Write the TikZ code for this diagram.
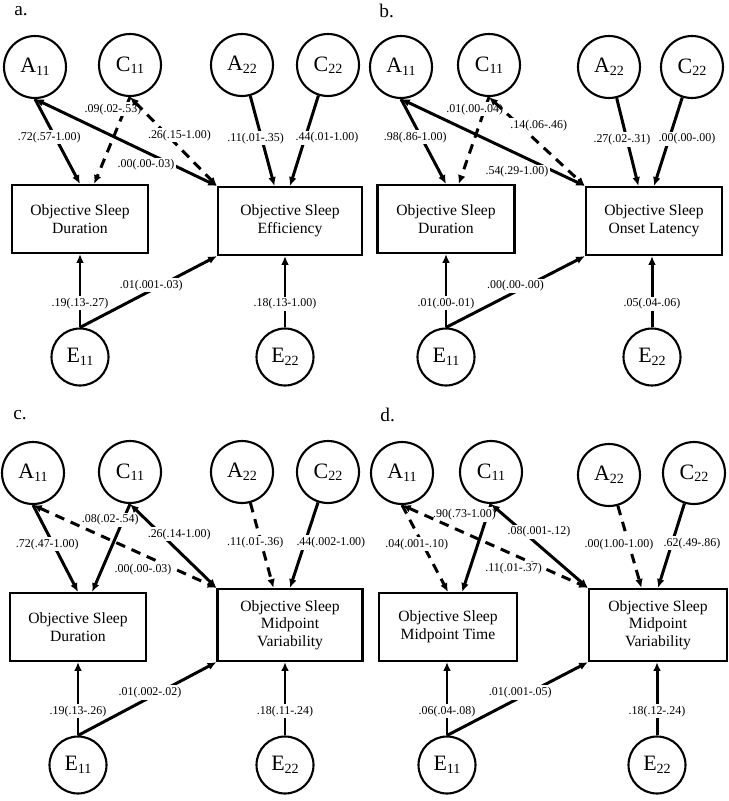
\documentclass[tikz,border=0pt]{standalone}
\usepackage{fontspec}
\setmainfont{Liberation Serif}
\usetikzlibrary{arrows.meta}
\newcommand\subix[1]{\raisebox{-.25ex}{\fontsize{8}{9}\selectfont #1}}
\tikzset{
  latent/.style={circle, draw, line width=1.2pt, minimum size=1.24cm, inner sep=0pt, font=\fontsize{12.5}{14}\selectfont},
  resid/.style={latent, minimum size=1.14cm},
  measure/.style={rectangle, draw, line width=1.2pt, align=center, minimum height=1.36cm, inner ysep=6.5pt, font=\fontsize{8.9}{10}\selectfont},
  effect/.style={line width=1.7pt, -{Latex[length=5pt,width=4.4pt]}},
  twoway/.style={line width=1.7pt, {Latex[length=5pt,width=4.4pt]}-{Latex[length=5pt,width=4.4pt]}},
  ns/.style={dash pattern=on 5.5pt off 4pt},
  lbl/.style={fill=white, inner sep=1pt, font=\fontsize{6.8}{8}\selectfont},
  tag/.style={anchor=west, inner sep=0pt, font=\fontsize{11}{12}\selectfont}
}
\begin{document}
\begin{tikzpicture}[x=0.02cm, y=-0.02cm]
\useasboundingbox (0,0) rectangle (729,801);

\begin{scope}[shift={(0,0)}]
\node[tag] (aTag) at (14,11) {a.};
\node[latent] (aA1) at (35,67) {A\subix{11}};
\node[latent] (aC1) at (130,65) {C\subix{11}};
\node[latent] (aA2) at (242,65) {A\subix{22}};
\node[latent] (aC2) at (328,65) {C\subix{22}};
\node[measure, minimum width=2.72cm] (aD1) at (80,219) {Objective Sleep\\Duration};
\node[measure, minimum width=2.88cm] (aD2) at (290,221) {Objective Sleep\\Efficiency};
\node[resid] (aE1) at (80,357) {E\subix{11}};
\node[resid] (aE2) at (285,357) {E\subix{22}};
\draw[effect] (aA1.south) -- (aD1.north) node[lbl, pos=.45, xshift=-.12cm] {.72(.57-1.00)};
\draw[effect, ns] (aC1.south) -- (aD1.68) node[lbl, pos=.14, xshift=-.24cm] {.09(.02-.53)};
\draw[twoway, ns] (aC1.south) -- (aD2.north west) node[lbl, pos=.43, xshift=.24cm] {.26(.15-1.00)};
\draw[twoway] (aA1.south) -- (aD2.north west) node[lbl, pos=.61, yshift=-.26cm] {.00(.00-.03)};
\draw[effect] (aA2) -- (aD2.114) node[lbl, pos=.47, xshift=-.12cm] {.11(.01-.35)};
\draw[effect] (aC2) -- (aD2.north) node[lbl, pos=.47, xshift=.44cm] {.44(.01-1.00)};
\draw[effect] (aE1) -- (aE1 |- aD1.south) node[lbl, pos=.33] {.19(.13-.27)};
\draw[effect] (aE1.north) -- (aD2.south west) node[lbl, pos=.52, yshift=.1cm] {.01(.001-.03)};
\draw[effect] (aE2) -- (aE2 |- aD2.south) node[lbl, pos=.33] {.18(.13-1.00)};
\end{scope}

\begin{scope}[shift={(365,0)}]
\node[tag] (bTag) at (14,11) {b.};
\node[latent] (bA1) at (36,67) {A\subix{11}};
\node[latent] (bC1) at (124,65) {C\subix{11}};
\node[latent] (bA2) at (244,67) {A\subix{22}};
\node[latent] (bC2) at (327,67) {C\subix{22}};
\node[measure, minimum width=2.74cm] (bD1) at (81,219) {Objective Sleep\\Duration};
\node[measure, minimum width=2.72cm] (bD2) at (289,221) {Objective Sleep\\Onset Latency};
\node[resid] (bE1) at (81,357) {E\subix{11}};
\node[resid] (bE2) at (287,357) {E\subix{22}};
\draw[effect] (bA1.south) -- (bD1.north) node[lbl, pos=.45, xshift=-.12cm] {.98(.86-1.00)};
\draw[effect, ns] (bC1.south) -- (bD1.70) node[lbl, pos=.14, xshift=-.2cm] {.01(.00-.04)};
\draw[twoway, ns] (bC1.south) -- (bD2.north west) node[lbl, pos=.32, xshift=.38cm] {.14(.06-.46)};
\draw[twoway] (bA1.south) -- (bD2.north west) node[lbl, pos=.63, yshift=-.36cm] {.54(.29-1.00)};
\draw[effect] (bA2) -- (bD2.114) node[lbl, pos=.47, xshift=-.1cm] {.27(.02-.31)};
\draw[effect] (bC2) -- (bD2.north) node[lbl, pos=.47, xshift=.36cm] {.00(.00-.00)};
\draw[effect] (bE1) -- (bE1 |- bD1.south) node[lbl, pos=.33] {.01(.00-.01)};
\draw[effect] (bE1.north) -- (bD2.south west) node[lbl, pos=.5, yshift=.12cm] {.00(.00-.00)};
\draw[effect] (bE2) -- (bE2 |- bD2.south) node[lbl, pos=.33] {.05(.04-.06)};
\end{scope}

\begin{scope}[shift={(0,406)}]
\node[tag] (cTag) at (13,9) {c.};
\node[latent] (cA1) at (33,67) {A\subix{11}};
\node[latent] (cC1) at (130,66) {C\subix{11}};
\node[latent] (cA2) at (242,66) {A\subix{22}};
\node[latent] (cC2) at (328,66) {C\subix{22}};
\node[measure, minimum width=2.72cm] (cD1) at (78,221) {Objective Sleep\\Duration};
\node[measure, minimum width=2.9cm] (cD2) at (290,219) {Objective Sleep\\Midpoint\\Variability};
\node[resid] (cE1) at (78,359) {E\subix{11}};
\node[resid] (cE2) at (285,359) {E\subix{22}};
\draw[effect] (cA1.south) -- (cD1.north) node[lbl, pos=.45, xshift=-.12cm] {.72(.47-1.00)};
\draw[effect] (cC1.south) -- (cD1.68) node[lbl, pos=.18, xshift=-.26cm] {.08(.02-.54)};
\draw[twoway, ns] (cA1.south) -- (cD2.north west) node[lbl, pos=.6, yshift=-.29cm] {.00(.00-.03)};
\draw[twoway] (cC1.south) -- (cD2.north west) node[lbl, pos=.36, xshift=.36cm] {.26(.14-1.00)};
\draw[effect, ns] (cA2) -- (cD2.114) node[lbl, pos=.47, xshift=-.12cm] {.11(.01-.36)};
\draw[effect] (cC2) -- (cD2.north) node[lbl, pos=.47, xshift=.52cm] {.44(.002-1.00)};
\draw[effect] (cE1) -- (cE1 |- cD1.south) node[lbl, pos=.33] {.19(.13-.26)};
\draw[effect] (cE1.north) -- (cD2.south west) node[lbl, pos=.52, yshift=.1cm] {.01(.002-.02)};
\draw[effect] (cE2) -- (cE2 |- cD2.south) node[lbl, pos=.33] {.18(.11-.24)};
\end{scope}

\begin{scope}[shift={(367,406)}]
\node[tag] (dTag) at (13,9) {d.};
\node[latent] (dA1) at (35,67) {A\subix{11}};
\node[latent] (dC1) at (124,66) {C\subix{11}};
\node[latent] (dA2) at (242,69) {A\subix{22}};
\node[latent] (dC2) at (327,67) {C\subix{22}};
\node[measure, minimum width=2.76cm] (dD1) at (81,221) {Objective Sleep\\Midpoint Time};
\node[measure, minimum width=2.76cm] (dD2) at (291,219) {Objective Sleep\\Midpoint\\Variability};
\node[resid] (dE1) at (80,359) {E\subix{11}};
\node[resid] (dE2) at (290,359) {E\subix{22}};
\draw[effect, ns] (dA1.south) -- (dD1.north) node[lbl, pos=.45, xshift=-.12cm] {.04(.001-.10)};
\draw[effect] (dC1.south) -- (dD1.68) node[lbl, pos=.12, xshift=-.46cm] {.90(.73-1.00)};
\draw[twoway, ns] (dA1.south) -- (dD2.north west) node[lbl, pos=.6, yshift=-.28cm] {.11(.01-.37)};
\draw[twoway] (dC1.south) -- (dD2.north west) node[lbl, pos=.33, xshift=.32cm] {.08(.001-.12)};
\draw[effect, ns] (dA2) -- (dD2.114) node[lbl, pos=.47, xshift=-.2cm] {.00(1.00-1.00)};
\draw[effect] (dC2) -- (dD2.north) node[lbl, pos=.47, xshift=.4cm] {.62(.49-.86)};
\draw[effect] (dE1) -- (dE1 |- dD1.south) node[lbl, pos=.33] {.06(.04-.08)};
\draw[effect] (dE1.north) -- (dD2.south west) node[lbl, pos=.52, yshift=.1cm] {.01(.001-.05)};
\draw[effect] (dE2) -- (dE2 |- dD2.south) node[lbl, pos=.33] {.18(.12-.24)};
\end{scope}
\end{tikzpicture}
\end{document}
